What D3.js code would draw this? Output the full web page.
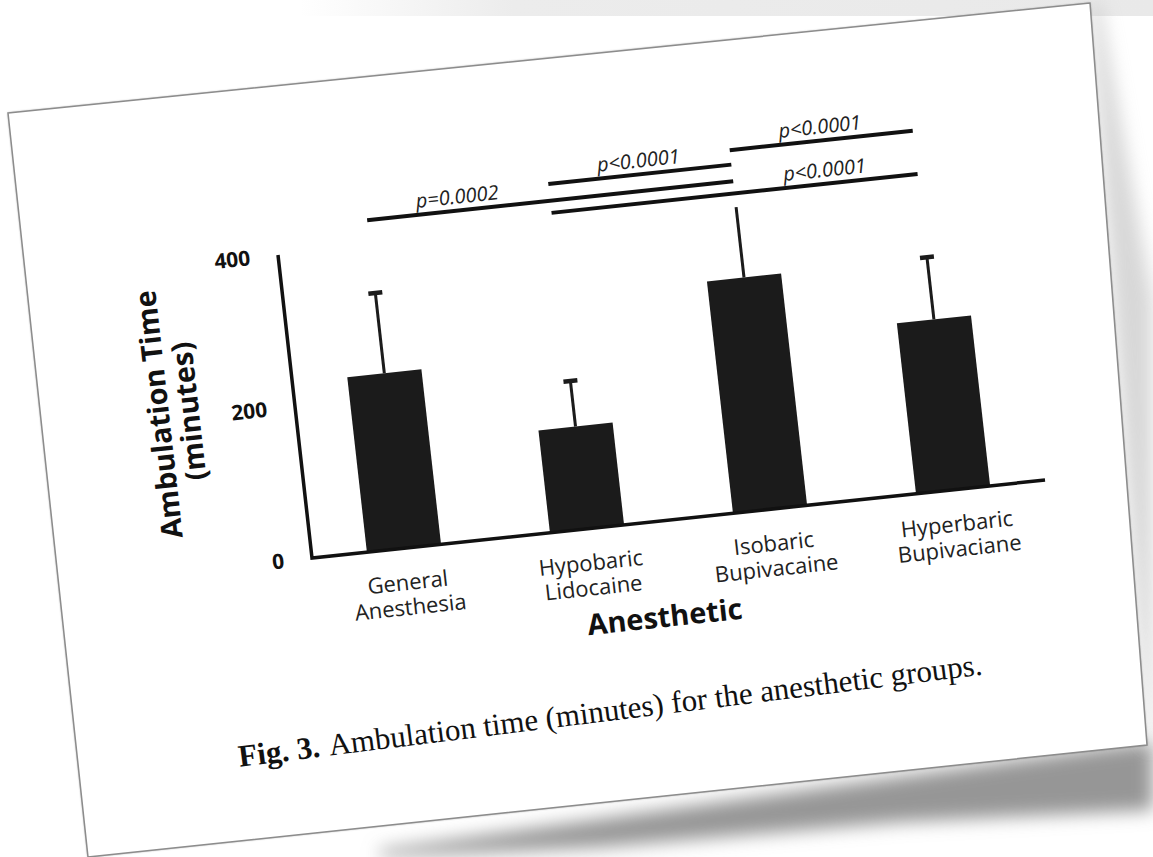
<!DOCTYPE html>
<html>
<head>
<meta charset="utf-8">
<script src="https://cdn.jsdelivr.net/npm/d3@7"></script>
<style>
body { margin: 0; background: #fff; }
</style>
</head>
<body>
<div id="chart"></div>
<script>
// data
var categories = ["General Anesthesia", "Hypobaric Lidocaine", "Isobaric Bupivacaine", "Hyperbaric Bupivaciane"];
var meanTime = [231, 135, 306, 225];
var sdTime = [106, 60, 93, 82];
var yTicks = [0, 200, 400];

// significance brackets
var sigFrom = [0, 1, 1, 2];
var sigTo = [2, 2, 3, 3];
var sigLabel = ["p=0.0002", "p<0.0001", "p<0.0001", "p<0.0001"];
var sigLevel = [433, 455, 417, 474];
var sigLabelAt = [0.25, 0.5, 0.75, 0.5];

var W = 1153, H = 857;

var svg = d3.select("#chart").append("svg")
    .attr("width", W)
    .attr("height", H);

var defs = svg.append("defs");
defs.append("filter").attr("id", "blur")
    .attr("x", "-20%").attr("y", "-20%").attr("width", "140%").attr("height", "140%")
    .append("feGaussianBlur").attr("stdDeviation", 9);
defs.append("filter").attr("id", "soft")
    .append("feGaussianBlur").attr("stdDeviation", 1.2);
var grad = defs.append("linearGradient").attr("id", "topband")
    .attr("x1", "0").attr("x2", "1").attr("y1", "0").attr("y2", "0");
grad.append("stop").attr("offset", "0").attr("stop-color", "#fff");
grad.append("stop").attr("offset", "0.25").attr("stop-color", "#ececec");
grad.append("stop").attr("offset", "1").attr("stop-color", "#e9e9e9");

// background band + paper with its shadow
svg.append("rect")
    .attr("x", 300).attr("y", 0).attr("width", W - 300).attr("height", 16)
    .attr("fill", "url(#topband)");

svg.append("polygon")
    .attr("points", "380,850 1100,748 1150,742 1153,742 1153,810 900,822 600,847 380,857")
    .attr("fill", "#969696")
    .attr("filter", "url(#blur)");
svg.append("polygon")
    .attr("points", "1090,3 1147,745 1153,745 1153,300 1100,3")
    .attr("fill", "#bdbdbd")
    .attr("filter", "url(#blur)")
    .attr("opacity", 0.6);

svg.append("polygon")
    .attr("points", "8,113 1090,3 1147,745 88,857")
    .attr("fill", "#888")
    .attr("filter", "url(#soft)");
svg.append("polygon")
    .attr("points", "8,113 1090,3 1147,745 88,857")
    .attr("fill", "#fff")
    .attr("stroke", "#8c8c8c")
    .attr("stroke-width", 1.5);

// chart group, tilted like the photographed page
var g = svg.append("g")
    .attr("transform", "matrix(0.9946,-0.1058,0.1115,0.9934,312,558)");

var x = d3.scaleBand()
    .domain(categories)
    .range([0, 737])
    .paddingInner(0.595)
    .paddingOuter(0.3);

var y = d3.scaleLinear()
    .domain([0, 400])
    .range([0, -305]);

// bars
g.selectAll(".bar")
    .data(categories)
    .enter().append("rect")
    .attr("class", "bar")
    .attr("x", function (d) { return x(d); })
    .attr("y", function (d, i) { return y(meanTime[i]); })
    .attr("width", x.bandwidth())
    .attr("height", function (d, i) { return y(0) - y(meanTime[i]); })
    .attr("fill", "#1b1b1b");

// error bars (upper only)
g.selectAll(".err")
    .data(categories)
    .enter().append("line")
    .attr("class", "err")
    .attr("x1", function (d) { return x(d) + x.bandwidth() / 2; })
    .attr("x2", function (d) { return x(d) + x.bandwidth() / 2; })
    .attr("y1", function (d, i) { return y(meanTime[i]); })
    .attr("y2", function (d, i) { return y(meanTime[i] + sdTime[i]); })
    .attr("stroke", "#1b1b1b")
    .attr("stroke-width", 3);

g.selectAll(".cap")
    .data(categories.filter(function (d, i) { return i != 2; }))
    .enter().append("line")
    .attr("class", "cap")
    .attr("x1", function (d) { return x(d) + x.bandwidth() / 2 - 7; })
    .attr("x2", function (d) { return x(d) + x.bandwidth() / 2 + 7; })
    .attr("y1", function (d) { var i = categories.indexOf(d); return y(meanTime[i] + sdTime[i]); })
    .attr("y2", function (d) { var i = categories.indexOf(d); return y(meanTime[i] + sdTime[i]); })
    .attr("stroke", "#1b1b1b")
    .attr("stroke-width", 4.5);

// axes
g.append("path")
    .attr("d", "M0," + y(400) + "L0," + y(0) + "L" + x.range()[1] + "," + y(0))
    .attr("fill", "none")
    .attr("stroke", "#111")
    .attr("stroke-width", 3.5);

var yAxis = g.append("g")
    .call(d3.axisLeft(y).tickValues(yTicks).tickSize(0).tickPadding(28));
yAxis.select(".domain").remove();
yAxis.selectAll("text")
    .attr("font-family", "'Open Sans', sans-serif")
    .attr("font-size", 21)
    .attr("font-weight", "bold")
    .attr("fill", "#111");

var xLab = g.selectAll(".xlab")
    .data(categories)
    .enter().append("text")
    .attr("class", "xlab")
    .attr("text-anchor", "middle")
    .attr("font-family", "'Open Sans', sans-serif")
    .attr("font-size", 22)
    .attr("fill", "#222");
xLab.selectAll("tspan")
    .data(function (d) { return d.split(" ").map(function (w) { return { w: w, c: d }; }); })
    .enter().append("tspan")
    .attr("x", function (t) { return x(t.c) + x.bandwidth() / 2; })
    .attr("y", function (t, k) { return 42 + k * 25; })
    .text(function (t) { return t.w; });

// axis titles
g.append("text")
    .attr("x", 344)
    .attr("y", 106)
    .attr("text-anchor", "middle")
    .attr("font-family", "'Open Sans', sans-serif")
    .attr("font-size", 29)
    .attr("font-weight", "bold")
    .attr("fill", "#111")
    .text("Anesthetic");

var yt = g.append("text")
    .attr("transform", "translate(-122," + (-159) + ") rotate(-90)")
    .attr("text-anchor", "middle")
    .attr("font-family", "'Open Sans', sans-serif")
    .attr("font-size", 29)
    .attr("font-weight", "bold")
    .attr("fill", "#111");
yt.append("tspan").attr("x", 0).attr("y", -4).text("Ambulation Time");
yt.append("tspan").attr("x", 0).attr("y", 26).text("(minutes)");

// significance brackets
var cx = function (i) { return x(categories[i]) + x.bandwidth() / 2; };
sigLabel.forEach(function (lab, i) {
    var x1 = cx(sigFrom[i]), x2 = cx(sigTo[i]), yy = y(sigLevel[i]);
    g.append("line")
        .attr("x1", x1).attr("x2", x2)
        .attr("y1", yy).attr("y2", yy)
        .attr("stroke", "#111")
        .attr("stroke-width", 4);
    g.append("text")
        .attr("x", x1 + (x2 - x1) * sigLabelAt[i])
        .attr("y", yy - 7)
        .attr("text-anchor", "middle")
        .attr("font-family", "'Open Sans', sans-serif")
        .attr("font-style", "italic")
        .attr("font-size", 20)
        .attr("fill", "#222")
        .text(lab);
});

// caption
var cap = g.append("text")
    .attr("transform", "translate(-95,200) rotate(-1.0)")
    .attr("font-family", "'Liberation Serif', serif")
    .attr("font-size", 31)
    .attr("fill", "#111");
cap.append("tspan").attr("font-weight", "bold").text("Fig. 3.");
cap.append("tspan").attr("dx", 9).text("Ambulation time (minutes) for the anesthetic groups.");
</script>
</body>
</html>
